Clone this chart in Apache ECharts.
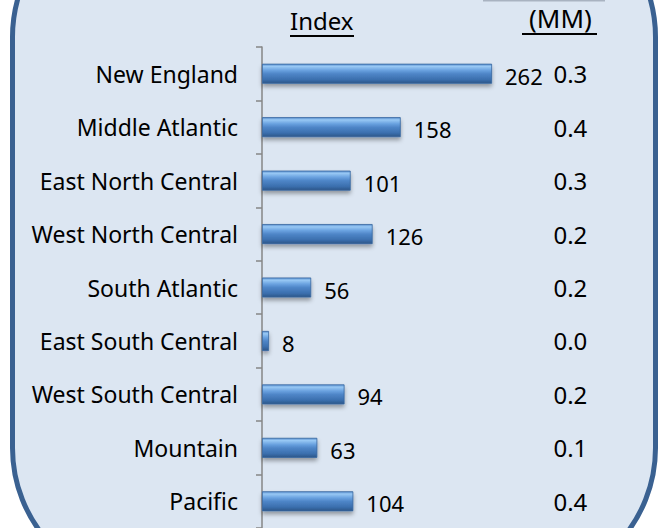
<!DOCTYPE html>
<html>
<head>
<meta charset="utf-8">
<script src="https://cdn.jsdelivr.net/npm/echarts@6/dist/echarts.min.js"></script>
<style>
  html, body { margin: 0; padding: 0; background: #fff; overflow: hidden; }
  #barChart { width: 660px; height: 528px; }
</style>
</head>
<body>
<div id="barChart"></div>
<script>
// 区域 / 指数 / 人口(MM)
var regions = ['New England', 'Middle Atlantic', 'East North Central', 'West North Central',
  'South Atlantic', 'East South Central', 'West South Central', 'Mountain', 'Pacific']
var indexValues = [262, 158, 101, 126, 56, 8, 94, 63, 104]
var populationMM = ['0.3', '0.4', '0.3', '0.2', '0.2', '0.0', '0.2', '0.1', '0.4']
var headers = ['Index', '(MM)']

var myChart = echarts.init(document.getElementById('barChart'), null, { renderer: 'svg' })

var font = 'Noto Sans'

var option = {
  backgroundColor: '#fff',
  animation: false,
  grid: {
    left: 262,
    right: 134.6,
    top: 47,
    bottom: -8
  },
  graphic: [
    {
      // rounded panel
      type: 'rect',
      z: -10,
      silent: true,
      shape: { x: 12.5, y: -103, width: 643, height: 691, r: 140 },
      style: { fill: '#dce6f2', stroke: '#3a6191', lineWidth: 5 }
    },
    {
      type: 'rect',
      z: -5,
      shape: { x: 483, y: 0, width: 122, height: 1.5 },
      style: { fill: '#a9b3c1' }
    },
    {
      type: 'text',
      left: 290,
      top: 8,
      style: { text: headers[0], font: '24px "' + font + '"', fill: '#000' }
    },
    {
      type: 'line',
      shape: { x1: 290, y1: 36, x2: 354, y2: 36 },
      style: { stroke: '#000', lineWidth: 2 }
    },
    {
      type: 'text',
      left: 529,
      top: 5,
      style: { text: headers[1], font: '26px "' + font + '"', fill: '#000' }
    },
    {
      type: 'line',
      shape: { x1: 522, y1: 34, x2: 597, y2: 34 },
      style: { stroke: '#000', lineWidth: 2 }
    }
  ],
  xAxis: {
    type: 'value',
    min: 0,
    max: 300,
    show: false
  },
  yAxis: [
    {
      type: 'category',
      inverse: true,
      data: regions,
      axisLine: { show: true, lineStyle: { color: '#868686', width: 1.5 } },
      axisTick: { show: true, length: 6, lineStyle: { color: '#868686', width: 1.5 } },
      axisLabel: {
        margin: 24,
        color: '#000',
        fontSize: 23,
        fontFamily: font
      },
      splitLine: { show: false }
    },
    {
      type: 'category',
      inverse: true,
      position: 'right',
      data: populationMM,
      axisLine: { show: false },
      axisTick: { show: false },
      axisLabel: {
        margin: 28,
        align: 'left',
        color: '#000',
        fontSize: 24,
        fontFamily: font
      },
      splitLine: { show: false }
    }
  ],
  series: [
    {
      name: 'Index',
      type: 'bar',
      yAxisIndex: 0,
      barWidth: 20,
      data: indexValues,
      itemStyle: {
        color: new echarts.graphic.LinearGradient(0, 0, 0, 1, [
          { offset: 0, color: '#5a90d0' },
          { offset: 0.12, color: '#98c8f4' },
          { offset: 0.32, color: '#6aa2e0' },
          { offset: 0.5, color: '#4f86c8' },
          { offset: 0.8, color: '#3b6fae' },
          { offset: 1, color: '#2c5688' }
        ]),
        borderColor: '#3767a0',
        borderWidth: 0.8,
        shadowColor: 'rgba(0, 0, 0, 0.35)',
        shadowBlur: 4,
        shadowOffsetY: 3
      },
      label: {
        show: true,
        position: 'right',
        distance: 13,
        color: '#000',
        fontSize: 22,
        fontFamily: font,
        offset: [0, 2]
      }
    }
  ]
}

myChart.setOption(option)
</script>
</body>
</html>
